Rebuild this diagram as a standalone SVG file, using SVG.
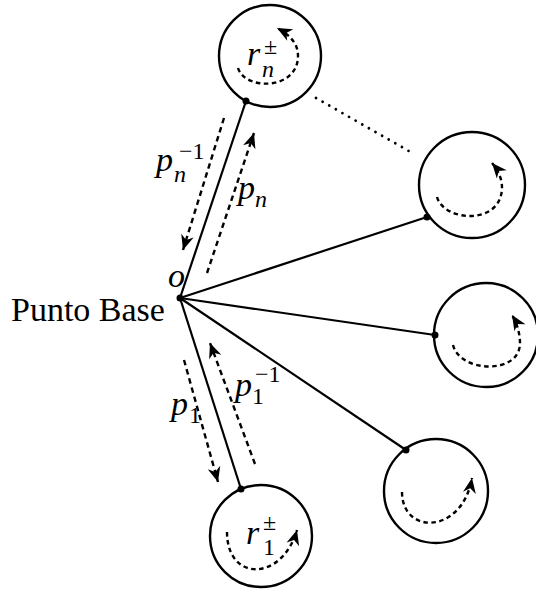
<svg xmlns="http://www.w3.org/2000/svg" width="536" height="593" viewBox="0 0 536 593">
<style>
.ring{fill:none;stroke:#000;stroke-width:2.4}
.edge{fill:none;stroke:#000;stroke-width:2.2}
.dot{fill:#000}
.dash{fill:none;stroke:#000;stroke-width:2.4;stroke-dasharray:5.5 4;marker-end:url(#stealth)}
.loop{fill:none;stroke:#000;stroke-width:2.4;stroke-dasharray:4.5 3.5;marker-end:url(#stealth)}
.dotted{fill:none;stroke:#000;stroke-width:2.8;stroke-linecap:round;stroke-dasharray:0.01 7.6}
text{font-family:"Liberation Serif","Times New Roman",serif;fill:#000}
.m{font-size:34px;font-style:italic}
.big{font-size:34px}
.si{font-size:24px;font-style:italic}
.su{font-size:24px}
</style>
<defs>
<marker id="stealth" markerUnits="userSpaceOnUse" viewBox="-17 -8 18 16" markerWidth="18" markerHeight="16" refX="0" refY="0" orient="auto">
<path d="M0,0 L-15,-6.5 L-10.5,0 L-15,6.5 Z" fill="#000"/>
</marker>
</defs>

<g id="connectors">
<line class="edge" x1="180" y1="298" x2="246" y2="101"/>
<line class="edge" x1="180" y1="298" x2="427" y2="217"/>
<line class="edge" x1="180" y1="298" x2="435" y2="335"/>
<line class="edge" x1="180" y1="298" x2="406" y2="450"/>
<line class="edge" x1="180" y1="298" x2="241" y2="489"/>
<line class="dotted" x1="316" y1="98" x2="414" y2="154"/>
<path class="dash" d="M224,118 L183,250"/>
<path class="dash" d="M207,273 L254,133"/>
<path class="dash" d="M184,360 L218,482"/>
<path class="dash" d="M255,464 L210,343"/>
<text class="m" x="156" y="171">p</text><text class="si" x="174" y="182">n</text><text class="su" x="179" y="159">−1</text>
<text class="m" x="238" y="199">p</text><text class="si" x="255" y="207">n</text>
<text class="m" x="171" y="415">p</text><text class="su" x="189" y="423">1</text>
<text class="m" x="235" y="396">p</text><text class="su" x="252" y="404">1</text><text class="su" x="255" y="382">−1</text>
</g>

<g id="base">
<circle class="dot" cx="180" cy="298" r="3.5"/>
<text class="m" x="168" y="287">o</text>
<text class="big" x="11" y="321">Punto Base</text>
</g>

<g id="loop-n">
<circle class="ring" cx="270" cy="56" r="51"/>
<circle class="dot" cx="246" cy="101" r="3.5"/>
<path class="loop" d="M238,68 C245,91 298,90 298,56 C298,47 294,37 277,28"/>
<text class="m" x="247" y="65">r</text><text class="su" x="264" y="54">±</text><text class="si" x="262" y="77">n</text>
</g>

<g id="loop-2">
<circle class="ring" cx="472" cy="185" r="53"/>
<circle class="dot" cx="427" cy="217" r="3.5"/>
<path class="loop" d="M437,197 C444,222 502,226 502,187 C502,179 498,170 492,163"/>
</g>

<g id="loop-3">
<circle class="ring" cx="486" cy="335" r="52"/>
<circle class="dot" cx="435" cy="335" r="3.5"/>
<path class="loop" d="M453,345 C460,373 520,375 520,343 C520,334 517,323 512,315"/>
</g>

<g id="loop-4">
<circle class="ring" cx="436" cy="491" r="52"/>
<circle class="dot" cx="406" cy="450" r="3.5"/>
<path class="loop" d="M402,492 C402,535 462,535 472,478"/>
</g>

<g id="loop-1">
<circle class="ring" cx="261" cy="536" r="51"/>
<circle class="dot" cx="241" cy="489" r="3.5"/>
<path class="loop" d="M227,532 C227,582 282,582 297,530"/>
<text class="m" x="246" y="544">r</text><text class="su" x="263" y="530">±</text><text class="su" x="263" y="555">1</text>
</g>
</svg>
